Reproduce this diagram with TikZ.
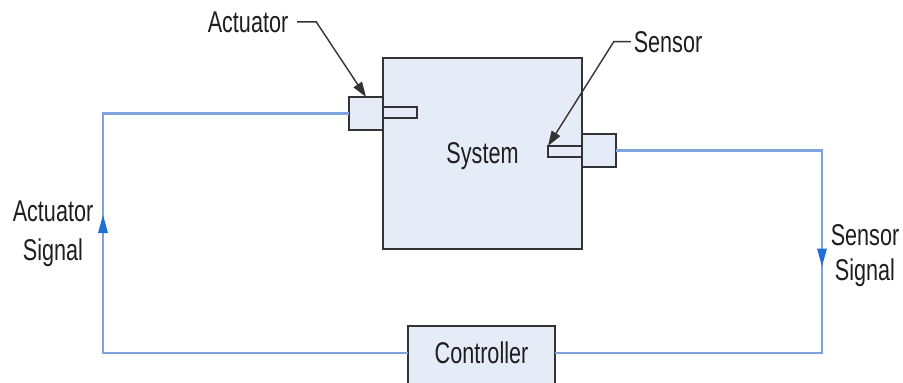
\documentclass[tikz,border=0pt]{standalone}
\usepackage{fontspec}
\setmainfont{Liberation Sans}[FakeStretch=0.72]
\usetikzlibrary{arrows.meta,decorations.markings}
\definecolor{boxfill}{HTML}{E6ECF7}
\definecolor{boxline}{HTML}{333333}
\definecolor{sigline}{HTML}{7FA3DE}
\definecolor{sigarrow}{HTML}{1E6FD6}
\definecolor{txt}{HTML}{1E1E1E}
\begin{document}
\begin{tikzpicture}[x=1pt,y=-1pt,
  every node/.style={inner sep=0pt,outer sep=0pt,text=txt,font=\fontsize{30}{35}\selectfont},
  blk/.style={draw=boxline,fill=boxfill,line width=1.7pt,anchor=north west},
  sig/.style={draw=sigline,line width=2.2pt},
  leader/.style={draw=boxline,line width=1.4pt,-{Triangle[length=15pt,width=10pt]}},
  sigtip/.style={sigarrow,line width=0pt},
]
\useasboundingbox (0,0) rectangle (903,383);
\clip (0,0) rectangle (903,383);
% main blocks
\node[blk,minimum width=199pt,text height=105pt,text depth=86pt] (sys) at (383,58) {System};
\node[blk,minimum width=34pt,minimum height=33pt] (act) at (349,97) {};
\node[blk,minimum width=34pt,minimum height=11pt] (actrod) at (383,107) {};
\node[blk,minimum width=34pt,minimum height=11pt] (senrod) at (548,146) {};
\node[blk,minimum width=34pt,minimum height=33pt] (sen) at (582,134) {};
\node[blk,minimum width=147pt,text height=37pt,text depth=25pt] (ctrl) at (408,326) {Controller};
% labels
\node[anchor=base] (actlbl) at (248,32) {Actuator};
\node[anchor=base] (senlbl) at (668,52) {Sensor};
\node[align=center,font=\fontsize{30}{39}\selectfont] (actsig) at (53,234) {Actuator\\Signal};
\node[align=center,font=\fontsize{30}{35}\selectfont] (sensig) at (865,256) {Sensor\\Signal};
% signal corners
\coordinate (lc) at (103,353);
\coordinate (rc) at (822,353);
% actuator signal: controller -> actuator
\draw[sig,postaction={decorate},decoration={markings,
  mark=at position 443pt with {\arrow[sigtip]{Triangle[length=18pt,width=10pt]}}}]
  (lc -| ctrl.west) -- (lc) |- (act.west);
% sensor signal: sensor -> controller
\draw[sig,postaction={decorate},decoration={markings,
  mark=at position 322pt with {\arrow[sigtip]{Triangle[length=18pt,width=10pt]}}}]
  (sen.east) -| (rc) -- (rc -| ctrl.east);
% leaders
\draw[leader] ([xshift=9pt]actlbl.east) -- ++(19,0) -- (act.north);
\draw[leader] ([xshift=-3pt]senlbl.west) -- ++(-17,0) -- (senrod.north west);
\end{tikzpicture}
\end{document}
